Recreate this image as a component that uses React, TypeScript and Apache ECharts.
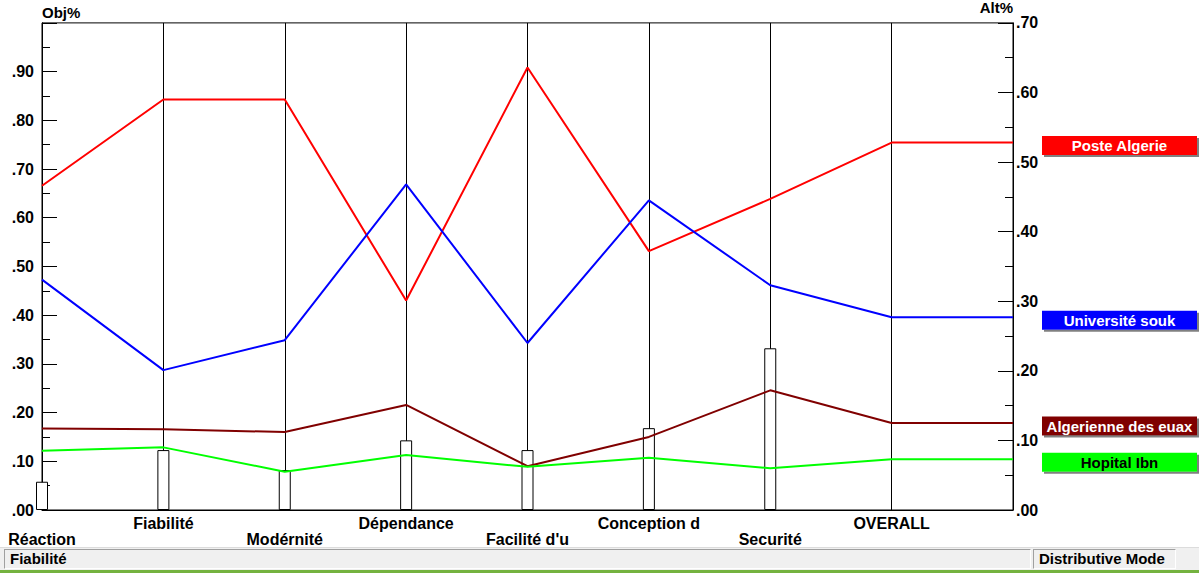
import React, { useEffect, useRef } from "react";
import * as echarts from "echarts";

// ---------- data ----------
const criteria = [
  "Réaction",
  "Fiabilité",
  "Modérnité",
  "Dépendance",
  "Facilité d'u",
  "Conception d",
  "Securité",
  "OVERALL",
];
// objective weights (Obj%), one per criterion (OVERALL has none)
const objWeights = [0.058, 0.123, 0.082, 0.143, 0.123, 0.168, 0.332];

const alternatives = ["Poste Algerie", "Université souk", "Algerienne des euax", "Hopital Ibn"];
// alternative priorities (Alt%) per criterion, last = OVERALL
const posteAlgerie = [0.466, 0.59, 0.59, 0.301, 0.636, 0.372, 0.447, 0.528];
const universiteSouk = [0.331, 0.201, 0.244, 0.468, 0.24, 0.445, 0.323, 0.277];
const algerienneEaux = [0.117, 0.116, 0.112, 0.151, 0.063, 0.105, 0.172, 0.125];
const hopitalIbn = [0.085, 0.09, 0.055, 0.079, 0.062, 0.075, 0.06, 0.073];
const altValues = [posteAlgerie, universiteSouk, algerienneEaux, hopitalIbn];

const objTitle = "Obj%";
const altTitle = "Alt%";
const statusLeft = "Fiabilité";
const statusRight = "Distributive Mode";

// ---------- styles ----------
const altColors = ["#ff0000", "#0000ff", "#800000", "#00ff00"];
const altTextColors = ["#ffffff", "#ffffff", "#ffffff", "#000000"];
const FONT = "'Liberation Sans', Arial, sans-serif";

const fmt = (v: number) => v.toFixed(2).replace(/^0/, "");

export default function App() {
  const ref = useRef<HTMLDivElement>(null);

  useEffect(() => {
    if (!ref.current) return;
    const chart = echarts.init(ref.current, undefined, { renderer: "svg" });

    const lastIdx = criteria.length; // extra point at right edge

    const lineSeries = alternatives.map((name, k) => {
      const vals = altValues[k];
      const data = vals.map((v, i) => [i, v]);
      data.push([lastIdx, vals[vals.length - 1]]);
      return {
        type: "line",
        name,
        xAxisIndex: 0,
        yAxisIndex: 1,
        data,
        symbol: "none",
        z: 5,
        lineStyle: { color: altColors[k], width: 2 },
        endLabel: {
          show: true,
          distance: 29,
          offset: [0, 3],
          formatter: (p: any) => `{t|${p.seriesName}}`,
          backgroundColor: altColors[k],
          padding: [1, 0, 1, 0],
          borderColor: "#e0e0e0",
          borderWidth: 0,
          shadowColor: "#808080",
          shadowBlur: 0,
          shadowOffsetX: 2,
          shadowOffsetY: 2,
          rich: {
            t: {
              width: 155,
              height: 17,
              lineHeight: 17,
              align: "center",
              color: altTextColors[k],
              fontFamily: FONT,
              fontWeight: "bold",
              fontSize: 15,
            },
          },
        },
      };
    });

    const option: any = {
      animation: false,
      backgroundColor: "#ffffff",
      grid: {
        left: 42,
        right: 186,
        top: 22,
        bottom: 64,
        show: true,
        borderColor: "#000",
        borderWidth: 1,
        backgroundColor: "#fff",
      },
      xAxis: {
        type: "value",
        min: 0,
        max: criteria.length,
        interval: 1,
        axisLine: { show: true, lineStyle: { color: "#000", width: 1 } },
        axisTick: { show: false },
        splitLine: { show: true, lineStyle: { color: "#000", width: 1 } },
        axisLabel: {
          margin: 5,
          showMinLabel: true,
          showMaxLabel: true,
          color: "#000",
          fontFamily: FONT,
          fontWeight: "bold",
          fontSize: 16,
          lineHeight: 16,
          formatter: (v: number) => {
            const i = Math.round(v);
            if (i < 0 || i >= criteria.length) return "";
            return i % 2 === 0 ? "\n" + criteria[i] : criteria[i];
          },
        },
      },
      yAxis: [
        {
          type: "value",
          position: "left",
          min: 0,
          max: 1,
          interval: 0.1,
          name: objTitle,
          nameLocation: "end",
          nameGap: 3,
          nameTextStyle: {
            align: "left",
            verticalAlign: "bottom",
            color: "#000",
            fontFamily: FONT,
            fontWeight: "bold",
            fontSize: 15,
          },
          axisLine: { show: true, lineStyle: { color: "#000", width: 1 } },
          axisTick: { show: true, inside: true, length: 15, lineStyle: { color: "#000" } },
          minorTick: { show: true, splitNumber: 2, length: 8, lineStyle: { color: "#000" } },
          splitLine: { show: false },
          axisLabel: {
            showMaxLabel: false,
            margin: 8,
            color: "#000",
            fontFamily: FONT,
            fontWeight: "bold",
            fontSize: 16,
            formatter: fmt,
          },
        },
        {
          type: "value",
          position: "right",
          min: 0,
          max: 0.7,
          interval: 0.1,
          name: altTitle,
          nameLocation: "end",
          nameGap: 3,
          nameTextStyle: {
            align: "right",
            verticalAlign: "bottom",
            color: "#000",
            fontFamily: FONT,
            fontWeight: "bold",
            fontSize: 15,
          },
          axisLine: { show: true, lineStyle: { color: "#000", width: 1 } },
          axisTick: { show: true, inside: true, length: 15, lineStyle: { color: "#000" } },
          minorTick: { show: true, splitNumber: 2, length: 8, lineStyle: { color: "#000" } },
          splitLine: { show: false },
          axisLabel: {
            margin: 3,
            color: "#000",
            fontFamily: FONT,
            fontWeight: "bold",
            fontSize: 16,
            formatter: fmt,
          },
        },
      ],
      series: [
        {
          type: "bar",
          name: "Obj",
          xAxisIndex: 0,
          yAxisIndex: 0,
          barWidth: 12,
          clip: false,
          z: 2,
          data: objWeights.map((v, i) => [i, v]),
          itemStyle: { color: "#ffffff", borderColor: "#000", borderWidth: 1 },
        },
        ...lineSeries,
      ],
    };

    chart.setOption(option);
    return () => chart.dispose();
  }, []);

  const panel: React.CSSProperties = {
    position: "absolute",
    top: 549,
    height: 18,
    borderTop: "1px solid #a0a0a0",
    borderLeft: "1px solid #a0a0a0",
    borderBottom: "1px solid #ffffff",
    borderRight: "1px solid #ffffff",
    fontFamily: FONT,
    fontWeight: "bold",
    fontSize: 15,
    lineHeight: "18px",
    color: "#000",
    paddingLeft: 5,
    boxSizing: "content-box",
    whiteSpace: "nowrap",
    overflow: "hidden",
  };

  return (
    <div style={{ position: "fixed", left: 0, top: 0, width: 1199, height: 574, background: "#fff", overflow: "hidden" }}>
      <div ref={ref} style={{ position: "absolute", left: 0, top: 0, width: 1199, height: 574 }} />
      <div style={{ position: "absolute", left: 0, top: 547, width: 1199, height: 23, background: "#f0f0f0", borderTop: "1px solid #dcdcdc" }} />
      <div style={{ ...panel, left: 4, width: 1020 }}>{statusLeft}</div>
      <div style={{ ...panel, left: 1033, width: 136 }}>{statusRight}</div>
      <div style={{ position: "absolute", left: 0, top: 570, width: 1199, height: 3, background: "#74b23f" }} />
    </div>
  );
}
